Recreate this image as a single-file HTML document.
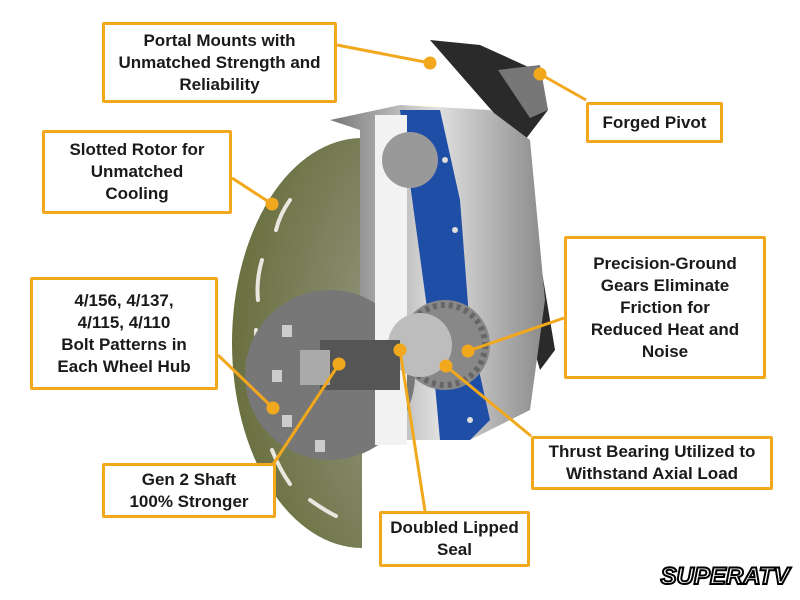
<!DOCTYPE html>
<html><head><meta charset="utf-8"><style>
body{margin:0;width:800px;height:600px;background:#fff;overflow:hidden;position:relative;font-family:"Liberation Sans",sans-serif}
.b{position:absolute;border:3px solid #f2a81d;background:#fff;box-sizing:border-box;display:flex;align-items:center;justify-content:center;text-align:center;font-weight:bold;font-size:17px;line-height:22px;color:#1a1a1a;border-radius:2px}
svg{position:absolute;left:0;top:0}
</style></head><body>
<svg width="800" height="600">
<defs>
<radialGradient id="r" cx="0.8" cy="0.5" r="0.8"><stop offset="0" stop-color="#a0a090"/><stop offset="1" stop-color="#6a7040"/></radialGradient>
<linearGradient id="h" x1="0" x2="1"><stop offset="0" stop-color="#777"/><stop offset="0.5" stop-color="#e0e0e0"/><stop offset="1" stop-color="#8a8a8a"/></linearGradient>
</defs>
<ellipse cx="362" cy="343" rx="130" ry="205" fill="url(#r)"/>
<rect x="362" y="130" width="140" height="430" fill="#fff"/>
<path d="M430 40 L480 45 L535 70 L548 110 L525 140 L530 200 L555 350 L540 370 L520 300 L500 120 Z" fill="#2a2a2a"/>
<path d="M498 70 L540 65 L548 110 L530 118 Z" fill="#777"/>
<path d="M330 120 L400 105 L490 110 L530 140 L545 300 L530 410 L470 440 L400 440 L360 440 L360 130 Z" fill="url(#h)"/>
<g stroke="#e8e8e0" stroke-width="4" fill="none" stroke-linecap="round">
<path d="M262 260 q-6 20 -4 40"/><path d="M256 330 q0 20 4 40"/><path d="M272 450 q8 20 18 34"/><path d="M290 200 q-10 14 -14 30"/><path d="M310 500 q14 10 26 16"/>
</g>
<circle cx="330" cy="375" r="85" fill="#777"/>
<g fill="#ccc"><rect x="282" y="325" width="10" height="12"/><rect x="272" y="370" width="10" height="12"/><rect x="282" y="415" width="10" height="12"/><rect x="315" y="440" width="10" height="12"/></g>
<path d="M400 110 L440 110 L460 200 L470 330 L490 420 L470 440 L440 440 L430 330 Z" fill="#1f4ea6"/>
<g fill="#ddd"><circle cx="445" cy="160" r="3"/><circle cx="455" cy="230" r="3"/><circle cx="470" cy="355" r="3"/><circle cx="470" cy="420" r="3"/></g>
<rect x="375" y="115" width="32" height="330" fill="#f2f2f2"/>
<circle cx="445" cy="345" r="45" fill="#888"/>
<circle cx="445" cy="345" r="40" fill="none" stroke="#666" stroke-width="6" stroke-dasharray="4 4"/>
<circle cx="420" cy="345" r="32" fill="#bdbdbd"/>
<rect x="320" y="340" width="80" height="50" fill="#555"/>
<rect x="300" y="350" width="30" height="35" fill="#aaa"/>
<circle cx="410" cy="160" r="28" fill="#999"/>
<g stroke="#f2a81d" stroke-width="3" fill="#f2a81d">
<line x1="337" y1="45" x2="430" y2="63"/><circle cx="430" cy="63" r="5"/>
<line x1="586" y1="100" x2="540" y2="74"/><circle cx="540" cy="74" r="5"/>
<line x1="232" y1="178" x2="272" y2="204"/><circle cx="272" cy="204" r="5"/>
<line x1="564" y1="318" x2="468" y2="351"/><circle cx="468" cy="351" r="5"/>
<line x1="531" y1="436" x2="446" y2="366"/><circle cx="446" cy="366" r="5"/>
<line x1="218" y1="355" x2="273" y2="408"/><circle cx="273" cy="408" r="5"/>
<line x1="272" y1="466" x2="339" y2="364"/><circle cx="339" cy="364" r="5"/>
<line x1="425" y1="511" x2="400" y2="350"/><circle cx="400" cy="350" r="5"/>
</g>
<text x="725" y="584" font-family="Liberation Sans" font-weight="bold" font-style="italic" font-size="24" text-anchor="middle" fill="#fff" stroke="#000" stroke-width="2">SUPERATV</text>
</svg>
<div class="b" style="left:102px;top:22px;width:235px;height:81px">Portal Mounts with<br>Unmatched Strength and<br>Reliability</div>
<div class="b" style="left:586px;top:102px;width:137px;height:41px">Forged Pivot</div>
<div class="b" style="left:42px;top:130px;width:190px;height:84px">Slotted Rotor for<br>Unmatched<br>Cooling</div>
<div class="b" style="left:564px;top:236px;width:202px;height:143px">Precision-Ground<br>Gears Eliminate<br>Friction for<br>Reduced Heat and<br>Noise</div>
<div class="b" style="left:30px;top:277px;width:188px;height:113px">4/156, 4/137,<br>4/115, 4/110<br>Bolt Patterns in<br>Each Wheel Hub</div>
<div class="b" style="left:531px;top:436px;width:242px;height:54px">Thrust Bearing Utilized to<br>Withstand Axial Load</div>
<div class="b" style="left:102px;top:463px;width:174px;height:55px">Gen 2 Shaft<br>100% Stronger</div>
<div class="b" style="left:379px;top:511px;width:151px;height:56px">Doubled Lipped<br>Seal</div>
</body></html>
